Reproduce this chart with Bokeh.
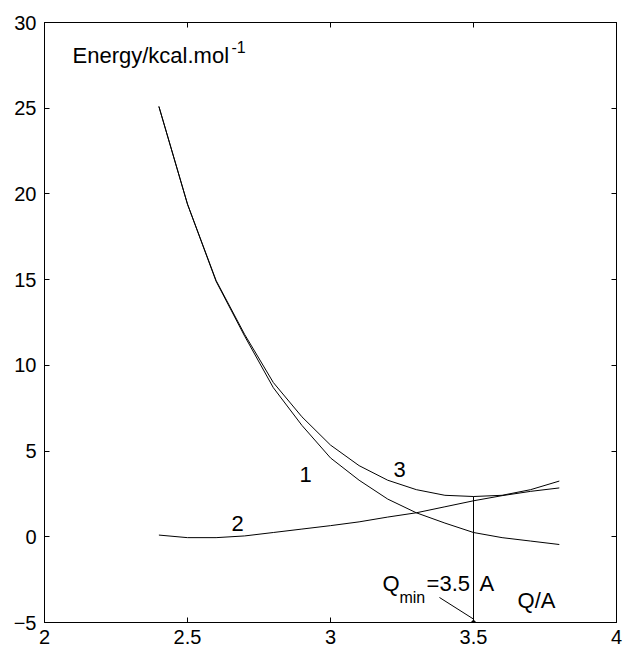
from bokeh.plotting import figure
from bokeh.models import Label, LinearAxis, FixedTicker, Range1d
from bokeh.embed import file_html
from bokeh.resources import INLINE

q = [2.4, 2.5, 2.6, 2.7, 2.8, 2.9, 3.0, 3.1, 3.2, 3.3, 3.4, 3.5, 3.6, 3.7, 3.8]
e1 = [25.1, 19.4, 14.9, 11.7, 8.7, 6.5, 4.6, 3.3, 2.2, 1.4, 0.8, 0.25, -0.05, -0.25, -0.45]
e2 = [0.1, -0.05, -0.05, 0.05, 0.25, 0.45, 0.65, 0.87, 1.15, 1.4, 1.75, 2.1, 2.4, 2.65, 2.85]
e3 = [25.1, 19.4, 14.95, 11.8, 9.0, 7.0, 5.35, 4.15, 3.3, 2.75, 2.42, 2.35, 2.42, 2.75, 3.25]
q_min = 3.5
x_ticks = [2, 2.5, 3, 3.5, 4]
y_ticks = [-5, 0, 5, 10, 15, 20, 25, 30]

FONT = "Liberation Sans"
FS = "22px"
SUB = "16px"

p = figure(width=623, height=651, output_backend="svg", toolbar_location=None,
           x_range=Range1d(2, 4), y_range=Range1d(-5, 30),
           min_border_left=44, min_border_right=7, min_border_top=22, min_border_bottom=29)
p.grid.visible = False
p.outline_line_color = "black"
p.outline_line_width = 1
p.background_fill_color = "white"
p.border_fill_color = "white"

def style(ax, ticks, labels=True):
    ax.axis_line_color = "black"
    ax.axis_line_width = 1
    ax.major_tick_in = 5
    ax.major_tick_out = 0
    ax.minor_tick_in = 0
    ax.minor_tick_out = 0
    ax.major_tick_line_color = "black"
    ax.major_label_text_font = FONT
    ax.major_label_text_color = "black"
    if labels:
        ax.major_label_text_font_size = "20px"
    else:
        ax.major_label_overrides = {t: "" for t in ticks}
        ax.major_label_text_font_size = "1px"
        ax.major_label_standoff = 0

p.xaxis.ticker = FixedTicker(ticks=x_ticks)
p.yaxis.ticker = FixedTicker(ticks=y_ticks)
style(p.xaxis[0], x_ticks)
style(p.yaxis[0], y_ticks)
p.xaxis.major_label_standoff = 7
p.yaxis.major_label_standoff = 8

top = LinearAxis(ticker=FixedTicker(ticks=x_ticks))
style(top, x_ticks, labels=False)
p.add_layout(top, "above")
right = LinearAxis(ticker=FixedTicker(ticks=y_ticks))
style(right, y_ticks, labels=False)
p.add_layout(right, "right")

p.line(q, e1, line_color="black", line_width=1)
p.line(q, e2, line_color="black", line_width=1)
p.line(q, e3, line_color="black", line_width=1)

i_min = q.index(q_min)
p.segment(x0=[q_min], y0=[-5], x1=[q_min], y1=[e3[i_min]], line_color="black", line_width=1)
p.segment(x0=[3.381], y0=[-3.54], x1=[q_min], y1=[-4.8], line_color="black", line_width=1)
p.scatter([q_min], [-5], marker="square", size=3, fill_color="black", line_color="black")

def lab(x, y, t, fs=FS):
    p.add_layout(Label(x=x, y=y, text=t, text_font=FONT, text_font_size=fs,
                       text_color="black", text_baseline="alphabetic", text_align="left"))

lab(2.098, 28.07, "Energy/kcal.mol")
lab(2.654, 28.6, "-1", SUB)
lab(2.892, 3.63, "1")
lab(3.220, 3.93, "3")
lab(2.654, 0.775, "2")
lab(3.182, -2.72, "Q")
lab(3.241, -3.54, "min", SUB)
lab(3.336, -2.72, "=3.5")
lab(3.521, -2.72, "A")
lab(3.654, -3.72, "Q/A")

open("out.html", "w").write(file_html(p, INLINE))
